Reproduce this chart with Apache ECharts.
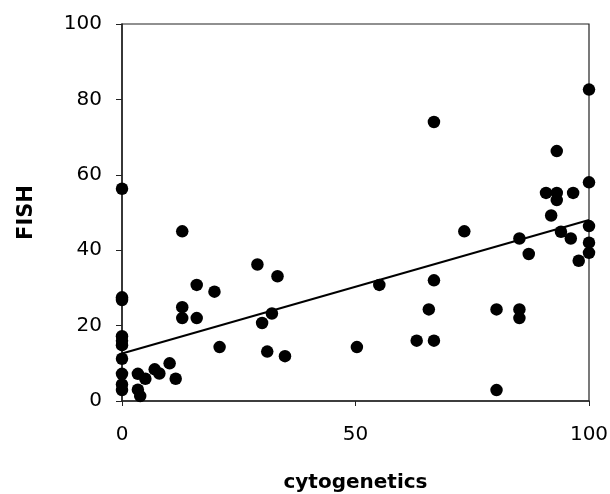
<!DOCTYPE html>
<html>
<head>
<meta charset="utf-8">
<script src="https://cdn.jsdelivr.net/npm/echarts@6/dist/echarts.min.js"></script>
<style>
  html, body { margin: 0; padding: 0; background: #fff; }
  #chart { width: 610px; height: 494px; }
</style>
</head>
<body>
<div id="chart"></div>
<script>
// cytogenetics (%) vs FISH (%) values
var cytoValues = [0, 0, 0, 0, 0, 0, 0, 0, 0, 0,
  3.4, 3.4, 3.9, 5.0, 7.0, 8.0, 10.2, 11.5,
  12.9, 12.9, 12.9, 16.0, 16.0, 19.8, 20.9,
  29.0, 30.0, 31.1, 32.1, 33.3, 34.9,
  50.3, 55.1, 63.1, 65.7, 66.8, 66.8, 66.8,
  73.3, 80.2, 80.2, 85.1, 85.1, 85.1, 87.1,
  90.8, 91.9, 93.1, 93.1, 93.1, 94.0, 96.1, 96.6, 97.8,
  100, 100, 100, 100, 100];
var fishValues = [56.3, 27.5, 17.2, 14.8, 11.2, 7.2, 4.4, 2.9, 26.8, 16.0,
  7.2, 3.0, 1.3, 5.9, 8.4, 7.3, 10.0, 5.9,
  45.0, 24.9, 22.0, 30.8, 22.0, 29.0, 14.3,
  36.2, 20.7, 13.1, 23.2, 33.1, 11.9,
  14.3, 30.8, 16.0, 24.3, 74.0, 32.0, 16.0,
  45.0, 24.3, 2.9, 43.1, 24.3, 22.0, 39.0,
  55.2, 49.2, 66.3, 55.2, 53.3, 44.9, 43.1, 55.2, 37.2,
  82.6, 58.0, 46.4, 42.0, 39.3];

// fitted line end points as drawn
var trendX = [0, 100];
var trendY = [12.6, 48.0];

var xTicks = [0, 50, 100];
var yTicks = [0, 20, 40, 60, 80, 100];

var points = [];
for (var i = 0; i < cytoValues.length; i++) {
  points.push([cytoValues[i], fishValues[i]]);
}
var trend = [];
for (var j = 0; j < trendX.length; j++) {
  trend.push([trendX[j], trendY[j]]);
}

var chart = echarts.init(document.getElementById('chart'), null, { renderer: 'canvas' });

var option = {
  animation: false,
  backgroundColor: '#fff',
  grid: {
    left: 122,
    right: 21,
    top: 24,
    bottom: 93,
    outerBoundsMode: 'none',
    containLabel: false,
    show: true,
    borderColor: '#222',
    borderWidth: 1.2
  },
  xAxis: {
    type: 'value',
    min: xTicks[0],
    max: xTicks[xTicks.length - 1],
    interval: 50,
    name: 'cytogenetics',
    nameLocation: 'middle',
    nameGap: 72,
    nameTextStyle: {
      fontFamily: 'DejaVu Sans',
      fontWeight: 'bold',
      fontSize: 20,
      color: '#000'
    },
    axisLine: { lineStyle: { color: '#222', width: 1.5 } },
    axisTick: { show: true, length: 5, lineStyle: { color: '#222' } },
    axisLabel: {
      margin: 24,
      fontFamily: 'DejaVu Sans',
      fontSize: 20,
      color: '#000'
    },
    splitLine: { show: false }
  },
  yAxis: {
    type: 'value',
    min: yTicks[0],
    max: yTicks[yTicks.length - 1],
    interval: 20,
    name: 'FISH',
    nameLocation: 'middle',
    nameGap: 85,
    nameTextStyle: {
      fontFamily: 'DejaVu Sans',
      fontWeight: 'bold',
      fontSize: 21,
      color: '#000'
    },
    axisLine: { lineStyle: { color: '#222', width: 1.5 } },
    axisTick: { show: true, length: 6, lineStyle: { color: '#222' } },
    axisLabel: {
      margin: 20,
      fontFamily: 'DejaVu Sans',
      fontSize: 20,
      color: '#000'
    },
    splitLine: { show: false }
  },
  series: [
    {
      type: 'line',
      data: trend,
      symbol: 'none',
      lineStyle: { color: '#000', width: 2 },
      z: 2
    },
    {
      type: 'scatter',
      data: points,
      symbol: 'circle',
      symbolSize: 12.5,
      itemStyle: { color: '#000', opacity: 1 },
      z: 3
    }
  ]
};
chart.setOption(option);
</script>
</body>
</html>
